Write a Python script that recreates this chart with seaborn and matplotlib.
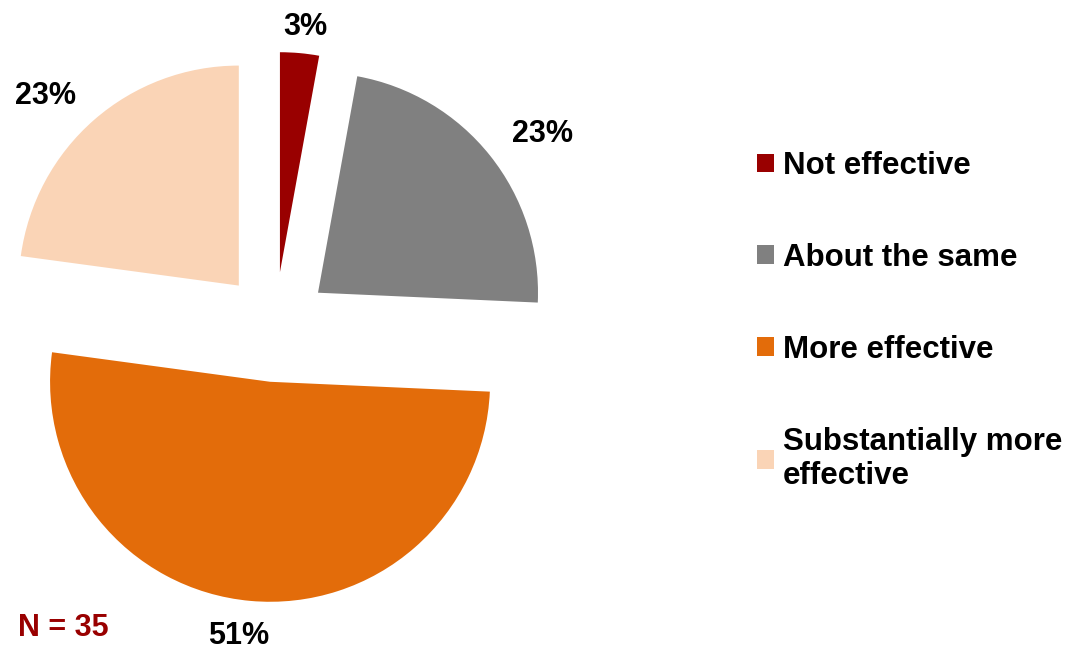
import matplotlib
matplotlib.use("Agg")
import matplotlib.pyplot as plt
from matplotlib.patches import Patch
import numpy as np
import seaborn as sns

categories = ["Not effective", "About the same", "More effective", "Substantially more\neffective"]
counts = [1, 8, 18, 8]
colors = ["#990000", "#808080", "#E36C0A", "#FAD4B6"]
n_label = "N = 35"

sns.set_theme(style="white")
plt.rcParams["font.family"] = ["Liberation Sans", "DejaVu Sans"]
plt.rcParams["text.color"] = "black"

fig = plt.figure(figsize=(10.72, 6.5), dpi=100)
W, H = 1072, 650
cx, cy, R = 275, 327, 220
lim = 1.25
explode = 0.25
label_dist = [1.12, 1.25, 1.165, 1.23]
label_turn = [-0.7, -3.3, -1.9, 4.4]
ax = fig.add_axes([(cx - lim * R) / W, (H - cy - lim * R) / H, 2 * lim * R / W, 2 * lim * R / H])

wedges, texts = ax.pie(
    counts, colors=colors, startangle=90, counterclock=False,
    explode=[explode] * len(counts), radius=1,
)
ax.set_xlim(-lim, lim)
ax.set_ylim(-lim, lim)
ax.set_aspect("auto")
ax.axis("off")

total = sum(counts)
for w, c, ld, lt in zip(wedges, counts, label_dist, label_turn):
    w.set_clip_on(False)
    w.set_linewidth(0)
    mid = np.deg2rad((w.theta1 + w.theta2) / 2)
    ox, oy = explode * np.cos(mid), explode * np.sin(mid)
    la = mid + np.deg2rad(lt)
    ax.text(ox + ld * np.cos(la), oy + ld * np.sin(la), f"{100 * c / total:.0f}%",
            ha="center", va="center", fontsize=22, fontweight="bold", color="black")

handles = [Patch(facecolor=c, edgecolor="none") for c in colors]
fig.legend(handles, categories, loc="upper left", bbox_to_anchor=(757 / W, 1 - 151 / H),
           frameon=False, prop={"weight": "bold", "size": 22.5}, labelcolor="black",
           handlelength=0.55, handleheight=0.55, handletextpad=0.28, labelspacing=1.98,
           borderpad=0, borderaxespad=0)

fig.text(18 / W, 1 - 628 / H, n_label, ha="left", va="center", fontsize=22,
         fontweight="bold", color="#990000")

fig.savefig("out.png", dpi=100, facecolor="white")
